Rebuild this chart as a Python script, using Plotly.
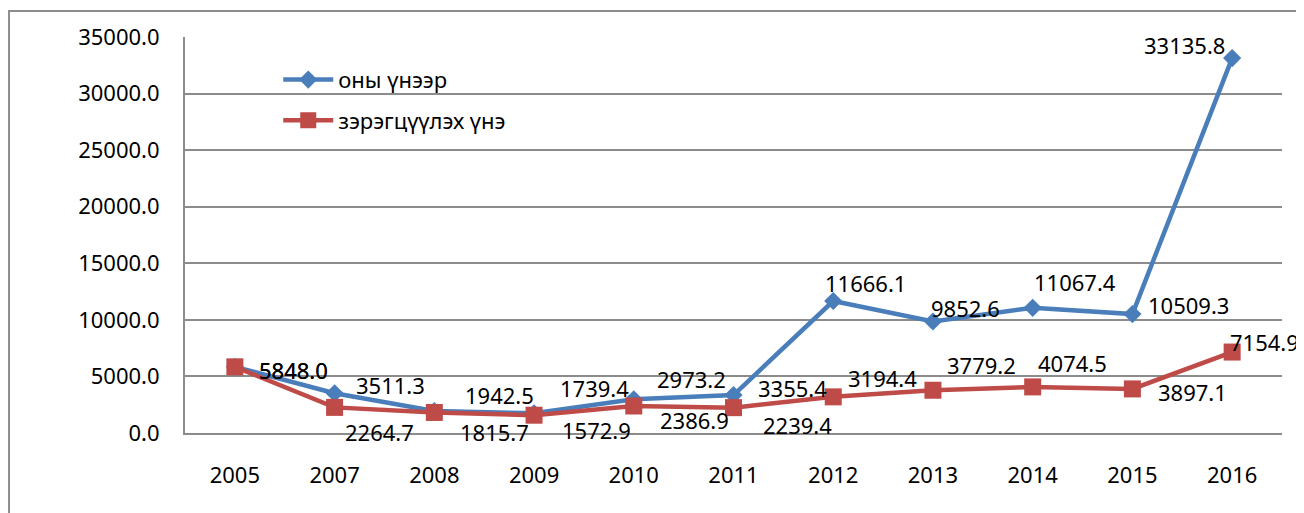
import plotly.graph_objects as go

years = ["2005", "2007", "2008", "2009", "2010", "2011",
         "2012", "2013", "2014", "2015", "2016"]
current_prices = [5848.0, 3511.3, 1942.5, 1739.4, 2973.2, 3355.4,
                  11666.1, 9852.6, 11067.4, 10509.3, 33135.8]
constant_prices = [5848.0, 2264.7, 1815.7, 1572.9, 2386.9, 2239.4,
                   3194.4, 3779.2, 4074.5, 3897.1, 7154.9]
series_names = ["оны үнээр", "зэрэгцүүлэх үнэ"]

# label offsets in px (dx right, dy down) from each point
blue_shift = [(59, 3), (56, -8), (65, -16), (60, -25), (58, -20), (59, -7),
              (32, -18), (33, -14), (42, -26), (56, -9), (-48, -13)]
red_shift = [(59, 3), (45, 25), (60, 20), (62, 15), (61, 14), (64, 17),
             (49, -19), (49, -25), (40, -24), (60, 3), (32, -10)]

FONT = "Noto Sans"
FS = 22
BLUE = "#4A7EBB"
RED = "#BE4B48"
GRID = "#8C8C8C"

fig = go.Figure()
fig.add_trace(go.Scatter(
    x=years, y=current_prices, name=series_names[0], mode="lines+markers",
    line=dict(color=BLUE, width=4.5),
    marker=dict(symbol="diamond", size=14, color=BLUE),
    legendgroup="a"))
fig.add_trace(go.Scatter(
    x=years, y=constant_prices, name=series_names[1], mode="lines+markers",
    line=dict(color=RED, width=4.5),
    marker=dict(symbol="square", size=17, color=RED),
    legendgroup="b"))

# data labels (category axis -> annotations take the category index)
for vals, shifts in ((current_prices, blue_shift), (constant_prices, red_shift)):
    for i, (v, (dx, dy)) in enumerate(zip(vals, shifts)):
        fig.add_annotation(x=i, y=v, text=f"{v:.1f}", showarrow=False,
                           xshift=dx, yshift=-dy,
                           font=dict(family=FONT, size=FS, color="black"))

# outer chart border (only top and left edges are in view)
fig.add_shape(type="rect", xref="paper", yref="paper",
              x0=-0.1604, x1=1.3, y0=-0.6, y1=1.0657,
              line=dict(color=GRID, width=2), layer="below")

# the page body adds an 8px margin, so the figure is 8px smaller
fig.update_layout(
    width=1296, height=505,
    margin=dict(l=177, r=22, t=29, b=80),
    paper_bgcolor="white", plot_bgcolor="white",
    font=dict(family=FONT, size=FS, color="black"),
    legend=dict(x=0.085, y=0.945, xanchor="left", yanchor="top",
                bgcolor="rgba(0,0,0,0)", traceorder="grouped",
                tracegroupgap=9, itemwidth=50,
                font=dict(family=FONT, size=FS, color="black")),
    xaxis=dict(type="category", range=[-0.5, len(years) - 0.5],
               showgrid=False, showline=True,
               linecolor=GRID, linewidth=2, ticks="",
               ticklabelstandoff=22, zeroline=False),
    yaxis=dict(range=[0, 35000], dtick=5000, tickformat=".1f",
               showgrid=True, gridcolor=GRID, gridwidth=2,
               showline=True, linecolor=GRID, linewidth=2, ticks="",
               ticklabelstandoff=19, zeroline=False),
)

fig.write_html("out.html")
